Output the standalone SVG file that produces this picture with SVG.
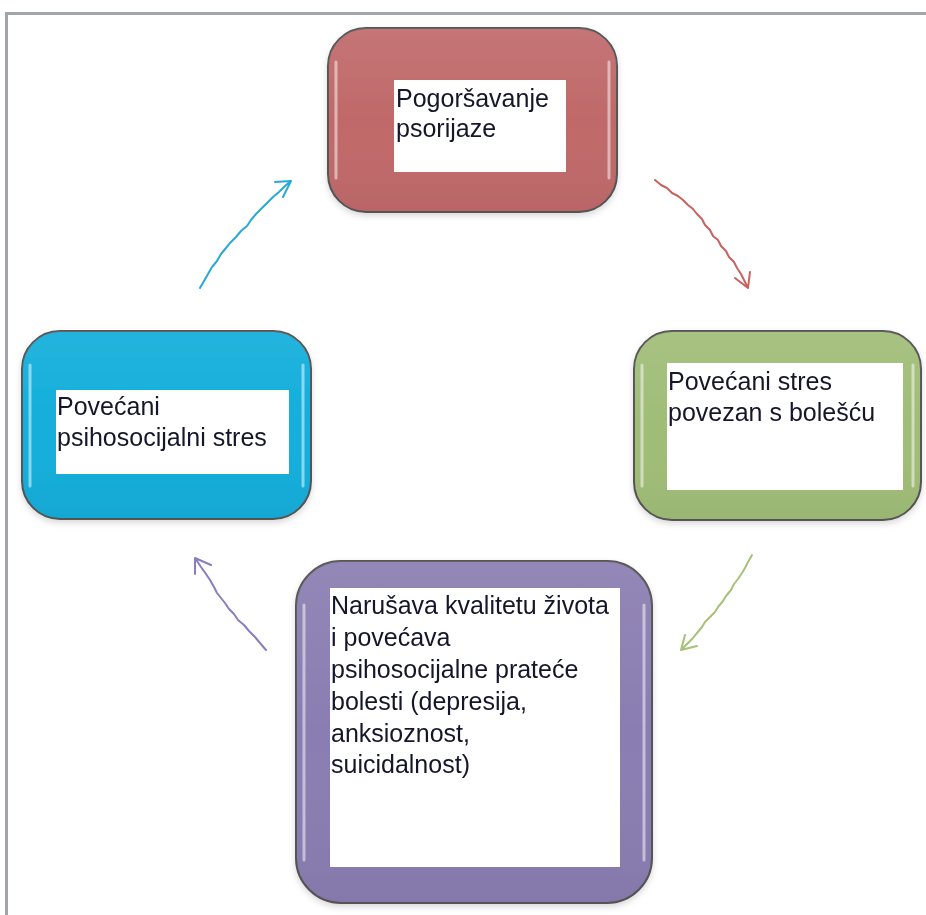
<svg xmlns="http://www.w3.org/2000/svg" width="926" height="915" viewBox="0 0 926 915">
<style>
.frame{fill:none;stroke:#a2a6ab;stroke-width:3}
.box{stroke:#555;stroke-width:2}
.hl{fill:none;stroke:#fff;stroke-opacity:0.5;stroke-width:3;stroke-linecap:round}
.tb{fill:#fff}
.t{font-family:"Liberation Sans",Arial,sans-serif;font-size:25px;fill:#15152a}
.arr{fill:none;stroke-width:2;stroke-linecap:round;stroke-linejoin:round}
</style>
<defs>
<linearGradient id="gloss" x1="0" y1="0" x2="0" y2="1">
<stop offset="0" stop-color="#fff" stop-opacity="0.08"/>
<stop offset="0.5" stop-color="#fff" stop-opacity="0"/>
<stop offset="1" stop-color="#000" stop-opacity="0.04"/>
</linearGradient>
<filter id="sh" x="-10%" y="-10%" width="120%" height="125%">
<feDropShadow dx="0" dy="3" stdDeviation="3" flood-color="#000" flood-opacity="0.15"/>
</filter>
</defs>
<rect width="926" height="915" fill="#fff"/>
<path class="frame" d="M6.5 915 V13.5 H926"/>

<g id="connectors">
<path class="arr" stroke="#c8625f" d="M655 180 L661 185 L667 188 L672 193 L678 196 L683 200 L688 205 L693 209 L697 214 L702 219 L705 225 L710 230 L713 236 L718 240 L721 246 L726 251 L729 257 L734 262 L737 268 L741 274 L744 280 L748 288 M735 278 L748 288 L750 272"/>
<path class="arr" stroke="#a6c27a" d="M752 555 L748 562 L745 568 L742 573 L738 579 L734 584 L731 590 L726 596 L723 601 L718 607 L715 612 L710 617 L705 622 L702 627 L697 633 L693 638 L688 643 L681 650 M685 635 L681 650 L697 646"/>
<path class="arr" stroke="#8a7ec0" d="M266 650 L260 643 L255 637 L249 631 L244 625 L238 620 L234 614 L229 609 L225 603 L221 598 L217 593 L214 587 L210 580 L206 574 L201 567 L195 558 M195 574 L195 558 L211 565"/>
<path class="arr" stroke="#2aa8d8" d="M200 288 L204 281 L208 274 L212 267 L217 261 L221 254 L226 248 L230 243 L236 237 L241 231 L247 226 L251 220 L256 214 L262 208 L267 203 L273 197 L279 192 L285 186 L291 181 M275 182 L291 181 L283 197"/>
</g>

<g id="node-top" filter="url(#sh)">
<rect class="box" x="328" y="28" width="289" height="184" rx="38" fill="#c0696a"/>
<rect x="328" y="28" width="289" height="184" rx="38" fill="url(#gloss)"/>
<path class="hl" d="M336 62 V178 M609 62 V178"/>
<rect class="tb" x="394" y="80" width="172" height="92"/>
<text class="t" x="396" y="107">Pogoršavanje</text>
<text class="t" x="396" y="137">psorijaze</text>
</g>

<g id="node-right" filter="url(#sh)">
<rect class="box" x="634" y="331" width="287" height="189" rx="38" fill="#a0bd77"/>
<rect x="634" y="331" width="287" height="189" rx="38" fill="url(#gloss)"/>
<path class="hl" d="M642 365 V486 M913 365 V486"/>
<rect class="tb" x="667" y="363" width="236" height="127"/>
<text class="t" x="668" y="390">Povećani stres</text>
<text class="t" x="668" y="421">povezan s bolešću</text>
</g>

<g id="node-left" filter="url(#sh)">
<rect class="box" x="22" y="331" width="289" height="188" rx="38" fill="#12aedb"/>
<rect x="22" y="331" width="289" height="188" rx="38" fill="url(#gloss)"/>
<path class="hl" d="M30 365 V486 M303 365 V486"/>
<rect class="tb" x="56" y="390" width="233" height="84"/>
<text class="t" x="57" y="415">Povećani</text>
<text class="t" x="57" y="446">psihosocijalni stres</text>
</g>

<g id="node-bottom" filter="url(#sh)">
<rect class="box" x="296" y="561" width="356" height="342" rx="45" fill="#8a7db1"/>
<rect x="296" y="561" width="356" height="342" rx="45" fill="url(#gloss)"/>
<path class="hl" d="M304 605 V860 M644 605 V860"/>
<rect class="tb" x="330" y="588" width="290" height="279"/>
<text class="t" x="331" y="614">Narušava kvalitetu života</text>
<text class="t" x="331" y="646">i povećava</text>
<text class="t" x="331" y="678">psihosocijalne prateće</text>
<text class="t" x="331" y="710">bolesti (depresija,</text>
<text class="t" x="331" y="742">anksioznost,</text>
<text class="t" x="331" y="773">suicidalnost)</text>
</g>
</svg>
